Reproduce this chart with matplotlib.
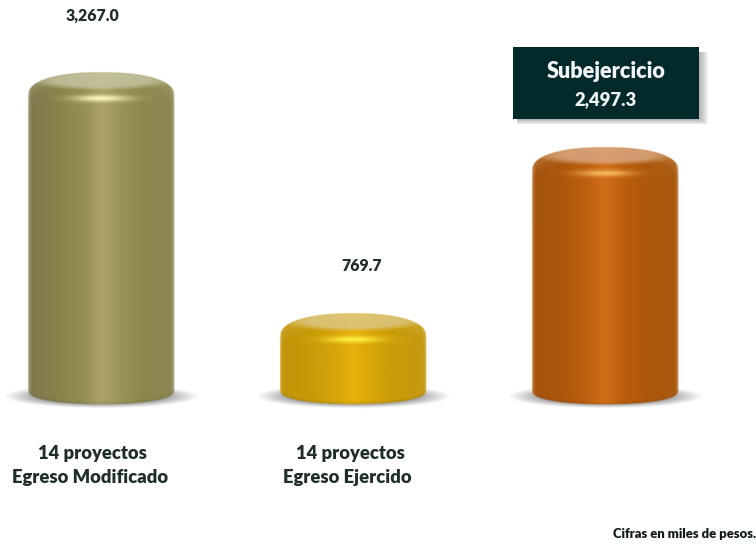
import numpy as np
import matplotlib
matplotlib.use('Agg')
import matplotlib.pyplot as plt
from matplotlib.patches import Rectangle

plt.rcParams['font.family'] = ['Lato', 'DejaVu Sans']

# values in thousands of pesos
modificado = 3267.0
ejercido = 769.7
subejercicio = 2497.3
values = [modificado, ejercido, subejercicio]
value_labels = ['3,267.0', '769.7', None]
cat_labels = ['14 proyectos\nEgreso Modificado', '14 proyectos\nEgreso Ejercido', '']
box_title = 'Subejercicio'
box_value = '2,497.3'
note = 'Cifras en miles de pesos.'

# gradient across the cylinder, left edge to right edge
stops_u = [-1.0, -0.95, -0.6, -0.25, 0.0, 0.25, 0.55, 0.95, 1.0]
body_colors = [
    ['#a09c78', '#80794e', '#88824b', '#948e54', '#aca466', '#9b945a', '#8e884d', '#8c8753', '#a4a07a'],
    ['#cfa52e', '#c29408', '#c69a08', '#d5a408', '#e8b00a', '#d8a608', '#c99c08', '#c49810', '#d2ae3c'],
    ['#c0783a', '#a5540e', '#ac560c', '#bd600e', '#d26e18', '#bb5e0c', '#ae580c', '#a9590f', '#c07c3c'],
]
cap_colors = ['#c7c6a4', '#dcc888', '#d9aa84']
glow_colors = ['#fbf7b8', '#fff040', '#f8b860']

W, H = 756, 544
PX_PER_UNIT = 0.0965   # px of height for one thousand pesos
ZERO_PX = 388.0
CENTERS_PX = np.array([100.5, 352.5, 604.5])
STEP_PX = 252.0
HALF_W = 73.0
BOTTOM_PX = 404.0


def hex_rgb(c):
    return np.array(matplotlib.colors.to_rgb(c))


def smooth(d, soft=1.0):
    return np.clip(d / soft + 0.5, 0, 1)


def cylinder_rgba(value, colors, cap, glow):
    # pixel grid local to the bar, 2 samples per px
    top = ZERO_PX - value * PX_PER_UNIT
    xs = np.arange(-HALF_W - 2, HALF_W + 2, 0.5)
    ys = np.arange(top - 2, BOTTOM_PX + 2, 0.5)
    X, Y = np.meshgrid(xs, ys)
    u = np.clip(X / HALF_W, -1, 1)

    rgb = np.dstack([np.interp(u, stops_u, [hex_rgb(c)[i] for c in colors]) for i in range(3)])

    # silhouette: rounded shoulders on top, elliptical bottom
    n = 2.3
    top_edge = (top + 23) - 23 * (1 - np.abs(u) ** n) ** (1 / n)
    bot_edge = (BOTTOM_PX - 13) + 13 * (1 - np.abs(u) ** 2.2) ** (1 / 2.2)
    alpha = smooth(Y - top_edge) * smooth(bot_edge - Y) * smooth(HALF_W - np.abs(X))

    # bright rim along the rounded shoulder, slightly darker ring at the bottom
    rim = np.exp(-((Y - top_edge) / 9.0) ** 2)[..., None]
    rgb = rgb * (1 - 0.12 * rim) + 0.12 * rim * np.array([1, 1, 0.85])
    low = np.exp(-((bot_edge - Y) / 2.0) ** 2)[..., None]
    rgb = rgb * (1 - 0.08 * low)

    # flat top face, fades into the body
    cy = top + 8.0
    r = np.sqrt((X / 66.0) ** 2 + ((Y - cy) / 9.0) ** 2)
    face = 0.8 * np.clip((1.15 - r) / 0.45, 0, 1)[..., None]
    rgb = rgb * (1 - face) + hex_rgb(cap) * face

    # glint under the top face
    g = np.exp(-(X / 27.0) ** 2 - ((Y - (top + 26)) / 3.2) ** 2)[..., None]
    rgb = rgb * (1 - g) + hex_rgb(glow) * g

    return np.dstack([rgb, alpha]), top


def shadow_rgba():
    xs = np.arange(-100, 100, 1.0)
    ys = np.arange(-14, 14, 0.5)
    X, Y = np.meshgrid(xs, ys)
    r = np.sqrt((X / 98.0) ** 2 + (Y / 12.0) ** 2)
    a = np.clip((1.0 - r) / 0.45, 0, 1) ** 1.1
    img = np.zeros(X.shape + (4,))
    img[..., :3] = 0.5
    img[..., 3] = a
    return img


def x_from_px(px):
    return (px - CENTERS_PX[0]) / STEP_PX


def y_from_px(py):
    return (ZERO_PX - py) / PX_PER_UNIT


fig = plt.figure(figsize=(W / 100, H / 100), dpi=100)
ax = fig.add_axes([0, 0, 1, 1])
ax.set_axis_off()

shadow = shadow_rgba()
for i, val in enumerate(values):
    cx = CENTERS_PX[i]
    ax.imshow(shadow, aspect='auto', interpolation='bilinear', zorder=1,
              extent=(x_from_px(cx - 100), x_from_px(cx + 100), y_from_px(396 + 14), y_from_px(396 - 14)))
    img, top = cylinder_rgba(val, body_colors[i], cap_colors[i], glow_colors[i])
    ax.imshow(img, aspect='auto', interpolation='bilinear', zorder=2,
              extent=(i - (HALF_W + 2) / STEP_PX, i + (HALF_W + 2) / STEP_PX, y_from_px(BOTTOM_PX + 2), val + 2 / PX_PER_UNIT))

ax.set_xlim(x_from_px(0), x_from_px(W))
ax.set_ylim(y_from_px(H), y_from_px(0))

# overlay in pixel coordinates for the labels and the box
ov = fig.add_axes([0, 0, 1, 1], facecolor='none')
ov.set_xlim(0, W)
ov.set_ylim(H, 0)
ov.set_axis_off()

txt = '#1f2d2d'
ov.text(92.5, 16, value_labels[0], ha='center', va='center', fontsize=11.4, fontweight=800, color=txt)
ov.text(361.5, 266, value_labels[1], ha='center', va='center', fontsize=11.4, fontweight=800, color=txt)

for x1, x2, lab in zip([92.5, 350], [90, 347.5], cat_labels):
    l1, l2 = lab.split('\n')
    ov.text(x1, 454, l1, ha='center', va='center', fontsize=13.2, fontweight=800, color=txt)
    ov.text(x2, 477.5, l2, ha='center', va='center', fontsize=13.2, fontweight=800, color=txt)

# box with soft shadow
for k in range(9, 0, -1):
    ov.add_patch(Rectangle((513 + 4, 47 + 5), 182 + k, 67 + k * 0.6, facecolor='#555555', alpha=0.06, edgecolor='none', zorder=3))
ov.add_patch(Rectangle((513, 47), 186, 72, facecolor='#03292a', edgecolor='none', zorder=4))
ov.text(606, 71.5, box_title, ha='center', va='center', fontsize=15.6, fontweight=800, color='#f2f5f5', zorder=5)
ov.text(606, 100, box_value, ha='center', va='center', fontsize=13.2, fontweight=800, color='#f2f5f5', zorder=5)

ov.text(756, 533.5, note, ha='right', va='center', fontsize=9.4, fontweight=800, color='#111a1a')

fig.savefig('out.png', dpi=100)
